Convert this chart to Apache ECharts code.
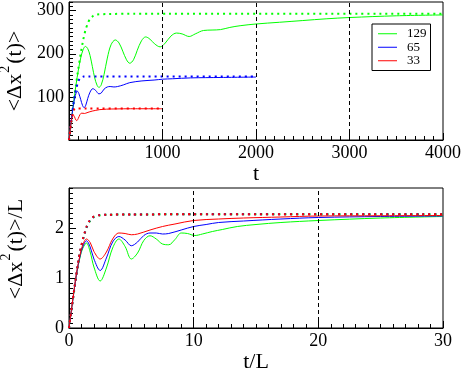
<!DOCTYPE html>
<html><head><meta charset="utf-8">
<script src="https://cdn.jsdelivr.net/npm/echarts/dist/echarts.min.js"></script>
<style>html,body{margin:0;padding:0;background:#fff}#c{width:462px;height:369px}</style>
</head><body><div id="c"></div><script>
// ---------- data: top panel (t, <Δx²(t)>) ----------
const legendNames = ['129', '65', '33'];
const topGreenSolid = [[0,0],[25,45],[50,88],[75,128],[100,162],[125,190],[150,209],[175,217],[200,212],[225,196],[250,170],[275,144],[300,127],[320,122],[345,128],[375,152],[410,190],[450,221],[495,232],[535,225],[575,206],[615,186],[650,178],[690,186],[730,208],[775,230],[820,239],[865,234],[915,223],[975,216],[1030,225],[1090,241],[1150,248],[1210,246],[1285,240],[1350,246],[1440,254],[1530,255],[1620,256],[1720,261],[1830,265],[2000,269],[2250,273],[2500,277],[2750,281],[3000,284],[3500,288],[4000,290]];
const topGreenDotted = [[0,0],[25,44],[50,87],[75,128],[100,166],[125,200],[150,230],[175,254],[200,270],[225,281],[260,288],[300,291],[400,292],[700,293],[4000,293]];
const topBlueSolid = [[0,0],[20,38],[40,72],[60,97],[75,108],[90,113],[105,108],[125,94],[145,80],[162,75],[180,81],[200,96],[225,111],[255,119],[285,115],[320,107],[345,109],[375,118],[410,123],[440,124],[480,123],[520,124],[585,128],[650,133],[780,137],[910,139],[1000,141],[1105,142],[1300,144],[1625,145],[2000,146]];
const topBlueDotted = [[0,0],[26,48],[52,90],[65,106],[78,120],[91,130],[104,138],[117,143],[130,145],[156,147],[200,147.5],[2000,147.5]];
const topRedSolid = [[0,0],[10,18],[20,36],[30,49],[37,55],[46,58],[56,55],[66,50],[75,46],[83,45],[99,50],[115,58],[132,62],[150,62],[166,61.5],[182,62.5],[215,65],[248,67],[280,68.5],[330,70.5],[400,71.5],[500,72],[660,72.5],[1000,72.5]];
const topRedDotted = [[0,0],[13,23],[26,45],[33,54],[40,61],[46,66],[53,70],[59,72],[66,73],[80,73],[1000,73]];
const topGuides = [1000, 2000, 3000];
const topYLabels = [100, 200, 300];
const topYTicks = [0, 100, 200, 300];

// ---------- data: bottom panel (t/L, <Δx²(t)>/L) ----------
const botGreenSolid = [[0,0],[0.3,0.55],[0.6,1.07],[0.9,1.43],[1.1,1.59],[1.4,1.70],[1.7,1.52],[2.0,1.22],[2.5,0.94],[3.0,1.2],[3.5,1.6],[4.0,1.78],[4.5,1.63],[5.0,1.38],[5.5,1.5],[6.0,1.75],[6.5,1.845],[7.0,1.78],[7.5,1.68],[8.0,1.665],[8.5,1.77],[9.0,1.9],[9.5,1.89],[10.1,1.85],[10.7,1.88],[11.5,1.93],[12.3,1.97],[13.5,2.03],[15,2.07],[17,2.11],[20,2.15],[25,2.2],[30,2.23]];
const botBlueSolid = [[0,0],[0.3,0.55],[0.6,1.08],[0.9,1.45],[1.1,1.62],[1.4,1.745],[1.7,1.62],[2.0,1.38],[2.5,1.15],[3.0,1.4],[3.5,1.72],[4.0,1.83],[4.5,1.76],[5.0,1.645],[5.5,1.72],[6.0,1.85],[6.5,1.9],[7.0,1.9],[7.5,1.88],[8.0,1.89],[9,1.96],[10,2.03],[11,2.07],[12,2.11],[14,2.14],[17,2.18],[20,2.21],[25,2.23],[30,2.24]];
const botRedSolid = [[0,0],[0.3,0.56],[0.6,1.1],[0.9,1.48],[1.1,1.66],[1.4,1.78],[1.7,1.71],[2.0,1.53],[2.5,1.38],[3.0,1.52],[3.5,1.78],[4.0,1.9],[4.5,1.89],[5.0,1.865],[5.5,1.88],[6.5,1.96],[7.5,2.03],[8.5,2.08],[10,2.15],[12,2.18],[14,2.2],[17,2.22],[20,2.24],[25,2.245],[30,2.25]];
const botGreenDotted = [[0,0],[0.4,0.72],[0.8,1.4],[1.0,1.64],[1.2,1.84],[1.4,2.0],[1.6,2.11],[1.8,2.18],[2.0,2.22],[2.4,2.25],[3,2.265],[5,2.27],[10,2.275],[30,2.275]];
const botBlueDotted = [[0,0],[0.4,0.73],[0.8,1.41],[1.0,1.65],[1.2,1.85],[1.4,2.01],[1.6,2.12],[1.8,2.19],[2.0,2.225],[2.4,2.255],[3,2.265],[5,2.27],[10,2.275],[30,2.275]];
const botRedDotted = [[0,0],[0.4,0.74],[0.8,1.42],[1.0,1.66],[1.2,1.86],[1.4,2.02],[1.6,2.13],[1.8,2.19],[2.0,2.23],[2.4,2.255],[3,2.265],[5,2.27],[10,2.275],[30,2.275]];
const botGuides = [10, 20];
const botYLabels = [0, 1, 2];
const botYTicks = [0, 1, 2];

// ---------- styling ----------
const FONT = 'Liberation Serif';
const GREEN = '#00ff00', BLUE = '#0000ff', RED = '#ff0000';
const black = {color: '#000'};
const plain = v => String(v);
const lbl = {color: '#000', fontFamily: FONT, fontSize: 18, formatter: plain};
const nameStyle = (padLeft) => ({
  color: '#000', fontFamily: FONT, fontSize: 22, padding: [0, 0, 0, padLeft],
  rich: {
    a: {color: '#000', fontFamily: FONT, fontSize: 22, lineHeight: 34},
    s: {color: '#000', fontFamily: FONT, fontSize: 14, lineHeight: 14, verticalAlign: 'top', padding: [0, 2, 0, 1]}
  }
});

function xAxisCfg(gi, max, interval, name, gap, showMin) {
  return {
    type: 'value', gridIndex: gi, min: 0, max: max, interval: interval,
    axisLine: {show: true, onZero: false, lineStyle: black},
    axisTick: {inside: true, length: 7, lineStyle: black},
    minorTick: {show: true, splitNumber: 10, length: 4, lineStyle: black},
    axisLabel: Object.assign({margin: 4, showMinLabel: showMin}, lbl),
    splitLine: {show: false}, minorSplitLine: {show: false},
    name: name, nameLocation: 'middle', nameGap: gap,
    nameTextStyle: {color: '#000', fontFamily: FONT, fontSize: 22}
  };
}
function yMinorCfg(gi, max, interval) {
  return {
    type: 'value', gridIndex: gi, min: 0, max: max, interval: interval, position: 'left',
    axisLine: {show: true, onZero: false, lineStyle: black},
    axisTick: {inside: true, length: 4, lineStyle: black},
    axisLabel: {show: false}, splitLine: {show: false}
  };
}
function yMajorCfg(gi, max, interval, ticks, labels, name, padLeft) {
  return {
    type: 'value', gridIndex: gi, min: 0, max: max, interval: interval, position: 'left',
    axisLine: {show: false, onZero: false},
    axisTick: {show: true, inside: true, length: 7, lineStyle: black, customValues: ticks},
    axisLabel: Object.assign({margin: 5, customValues: labels}, lbl),
    splitLine: {show: false},
    name: name, nameLocation: 'middle', nameRotate: 90, nameGap: 36,
    nameTextStyle: nameStyle(padLeft)
  };
}
function line(name, data, color, xi, yi, dotted, guides) {
  const s = {
    type: 'line', name: name, data: data, xAxisIndex: xi, yAxisIndex: yi,
    symbol: 'none', smooth: dotted ? 0.2 : 0.35, animation: false, silent: true,
    lineStyle: dotted ? {color: color, width: 2, type: [2, 4]} : {color: color, width: 1},
    itemStyle: {color: color}, z: dotted ? 3 : 2
  };
  if (guides) {
    s.markLine = {
      silent: true, symbol: 'none', label: {show: false}, animation: false,
      lineStyle: {color: '#000', type: [4, 3], width: 1},
      emphasis: {disabled: true},
      data: guides.map(v => ({xAxis: v}))
    };
  }
  return s;
}

const gridBase = {left: 69, width: 374, show: true, borderColor: '#000', borderWidth: 1,
  backgroundColor: 'transparent', containLabel: false, outerBoundsMode: 'none'};

const chart = echarts.init(document.getElementById('c'), null, {renderer: 'canvas'});
chart.setOption({
  animation: false,
  backgroundColor: '#fff',
  grid: [
    Object.assign({top: 2, height: 138}, gridBase),
    Object.assign({top: 188, height: 140}, gridBase)
  ],
  xAxis: [
    xAxisCfg(0, 4000, 1000, 't', 17, false),
    xAxisCfg(1, 30, 10, 't/L', 20, true)
  ],
  yAxis: [
    yMinorCfg(0, 320, 10),
    yMajorCfg(0, 320, 100, topYTicks, topYLabels, '{a|<Δx}{s|2}{a|(t)>}', 0),
    yMinorCfg(1, 2.8, 0.1),
    yMajorCfg(1, 2.8, 1, botYTicks, botYLabels, '{a|<Δx}{s|2}{a|(t)>/L}', 18)
  ],
  legend: {
    data: legendNames, orient: 'vertical', left: 372, top: 24,
    icon: 'rect', itemWidth: 19, itemHeight: 1, itemGap: 0, padding: [3, 4, 3, 6],
    borderColor: '#000', borderWidth: 1, backgroundColor: '#fff', selectedMode: false,
    textStyle: {color: '#000', fontFamily: FONT, fontSize: 13, lineHeight: 13.5, padding: [0, 0, 0, 5]}
  },
  series: [
    line(legendNames[0], topGreenSolid, GREEN, 0, 0, false, topGuides),
    line(legendNames[1], topBlueSolid, BLUE, 0, 0, false),
    line(legendNames[2], topRedSolid, RED, 0, 0, false),
    line('129 dotted', topGreenDotted, GREEN, 0, 0, true),
    line('65 dotted', topBlueDotted, BLUE, 0, 0, true),
    line('33 dotted', topRedDotted, RED, 0, 0, true),
    line('129 b', botGreenSolid, GREEN, 1, 2, false, botGuides),
    line('65 b', botBlueSolid, BLUE, 1, 2, false),
    line('33 b', botRedSolid, RED, 1, 2, false),
    line('129 b dotted', botGreenDotted, GREEN, 1, 2, true),
    line('65 b dotted', botBlueDotted, BLUE, 1, 2, true),
    line('33 b dotted', botRedDotted, RED, 1, 2, true)
  ]
});
</script></body></html>
